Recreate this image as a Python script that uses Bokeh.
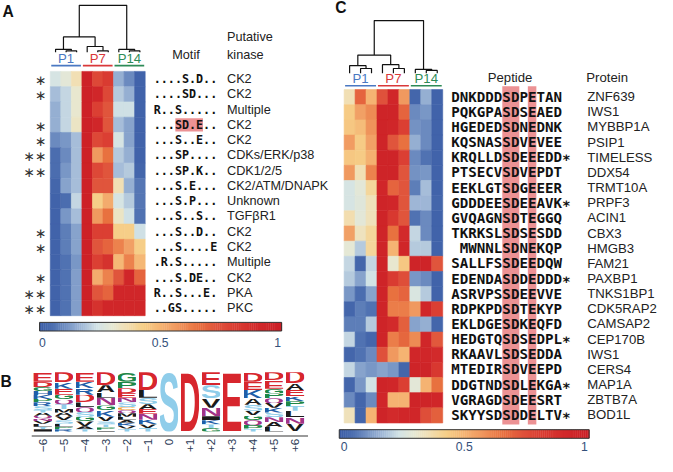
import base64
import math
import numpy as np
from bokeh.plotting import figure
from bokeh.models import Range1d, LinearColorMapper, ColumnDataSource
from bokeh.transform import transform
from bokeh.core.properties import value
from bokeh.embed import file_html
from bokeh.resources import INLINE

# ------------------------------------------------------------------ data
groups = ["P1", "P7", "P14"]
group_colors = ["#4a78c2", "#d9383a", "#2e8b57"]

motifs = ["....S.D..", "....SD...", "R..S.....", "...SD.E..", "...S..E..",
          "...SP....", "...SP.K..", "...S.E...", "...S.P...", "...S..S..",
          "...S..D..", "...S....E", ".R.S.....", "...S.DE..", "R..S...E.",
          "..GS....."]
kinases = ["CK2", "CK2", "Multiple", "CK2", "CK2", "CDKs/ERK/p38", "CDK1/2/5",
           "CK2/ATM/DNAPK", "Unknown", "TGF\u03b2R1", "CK2", "CK2", "Multiple",
           "CK2", "PKA", "PKC"]
motif_stars = ["\u2217", "\u2217", "", "\u2217", "\u2217", "\u2217\u2217", "\u2217\u2217", "", "", "",
               "\u2217", "\u2217", "", "\u2217", "\u2217\u2217", "\u2217\u2217"]
motif_values = [
    [0.25, 0.29, 0.36, 0.97, 0.77, 0.82, 0.16, 0.10, 0.02],
    [0.18, 0.22, 0.31, 0.97, 0.93, 0.77, 0.20, 0.16, 0.02],
    [0.16, 0.22, 0.31, 0.97, 0.80, 0.73, 0.235, 0.235, 0.02],
    [0.16, 0.22, 0.33, 0.97, 0.93, 0.73, 0.18, 0.14, 0.02],
    [0.10, 0.12, 0.18, 0.97, 0.77, 0.80, 0.25, 0.14, 0.02],
    [0.05, 0.10, 0.18, 0.97, 0.57, 0.66, 0.20, 0.16, 0.02],
    [0.05, 0.12, 0.18, 0.97, 0.77, 0.73, 0.18, 0.20, 0.03],
    [0.03, 0.14, 0.18, 0.97, 0.73, 0.73, 0.36, 0.16, 0.07],
    [0.02, 0.05, 0.22, 0.97, 0.43, 0.52, 0.25, 0.20, 0.07],
    [0.02, 0.12, 0.18, 0.97, 0.57, 0.66, 0.33, 0.235, 0.06],
    [0.02, 0.08, 0.14, 0.97, 0.80, 0.80, 0.43, 0.43, 0.235],
    [0.02, 0.08, 0.14, 0.97, 0.73, 0.69, 0.62, 0.55, 0.43],
    [0.02, 0.06, 0.12, 0.97, 0.80, 0.86, 0.49, 0.62, 0.49],
    [0.02, 0.06, 0.13, 0.97, 0.52, 0.62, 0.73, 0.93, 0.69],
    [0.02, 0.06, 0.13, 0.97, 0.73, 0.69, 0.93, 0.93, 0.93],
    [0.02, 0.06, 0.13, 0.97, 0.86, 0.93, 0.93, 0.93, 0.93],
]
highlight_pattern = "SD.E"

peptides = ["DNKDDDSDPETAN", "PQKGPASDSEAED", "HGEDEDSDNEDNK", "KQSNASSDVEVEE",
            "KRQLLDSDEEEDD", "PTSECVSDVEPDT", "EEKLGTSDGEEER", "GDDDEESDEEAVK",
            "GVQAGNSDTEGGQ", "TKRKSLSDSESDD", " MWNNLSDNEKQP", "SALLFSSDEEDQW",
            "EDENDASDDEDDD", "ASRVPSSDEEVVE", "RDPKPDSDTEKYP", "EKLDGESDKEQFD",
            "HEDGTQSDSEDPL", "RKAAVLSDSEDDA", "MTEDIRSDVEEPD", "DDGTNDSDLEKGA",
            "VGRAGDSDEESRT", "SKYYSDSDDELTV"]
peptide_stars = [False, False, False, False, True, False, False, True, False, False,
                 False, False, True, False, False, False, True, False, False, True,
                 False, True]
proteins = ["ZNF639", "IWS1", "MYBBP1A", "PSIP1", "TIMELESS", "DDX54", "TRMT10A",
            "PRPF3", "ACIN1", "CBX3", "HMGB3", "FAM21", "PAXBP1", "TNKS1BP1",
            "CDK5RAP2", "CAMSAP2", "CEP170B", "IWS1", "CERS4", "MAP1A", "ZBTB7A",
            "BOD1L"]
peptide_site_offset = 6  # position of the phospho-S within each peptide
peptide_values = [
    [0.36, 0.69, 0.50, 0.74, 0.93, 0.57, 0.03, 0.16, 0.02],
    [0.44, 0.55, 0.60, 0.95, 0.95, 0.69, 0.10, 0.12, 0.02],
    [0.45, 0.48, 0.58, 0.95, 0.93, 0.80, 0.11, 0.10, 0.02],
    [0.56, 0.44, 0.55, 0.95, 0.73, 0.66, 0.16, 0.10, 0.02],
    [0.45, 0.44, 0.51, 0.95, 0.95, 0.80, 0.10, 0.06, 0.02],
    [0.57, 0.36, 0.62, 0.95, 0.95, 0.73, 0.11, 0.12, 0.02],
    [0.25, 0.29, 0.40, 0.93, 0.69, 0.73, 0.08, 0.18, 0.02],
    [0.25, 0.28, 0.35, 0.95, 0.93, 0.73, 0.17, 0.17, 0.03],
    [0.37, 0.29, 0.35, 0.95, 0.83, 0.73, 0.06, 0.10, 0.02],
    [0.55, 0.34, 0.40, 0.95, 0.66, 0.90, 0.22, 0.10, 0.02],
    [0.30, 0.20, 0.40, 0.95, 0.50, 0.93, 0.20, 0.20, 0.02],
    [0.22, 0.03, 0.22, 0.95, 0.31, 0.45, 0.95, 0.95, 0.73],
    [0.20, 0.14, 0.24, 0.95, 0.82, 0.75, 0.12, 0.10, 0.02],
    [0.12, 0.05, 0.14, 0.95, 0.66, 0.69, 0.26, 0.20, 0.02],
    [0.03, 0.08, 0.06, 0.95, 0.63, 0.63, 0.57, 0.93, 0.80],
    [0.08, 0.08, 0.20, 0.95, 0.90, 0.70, 0.14, 0.16, 0.03],
    [0.22, 0.06, 0.03, 0.95, 0.63, 0.68, 0.60, 0.93, 0.72],
    [0.03, 0.06, 0.10, 0.74, 0.57, 0.50, 0.93, 0.93, 0.90],
    [0.22, 0.14, 0.12, 0.14, 0.12, 0.03, 0.95, 0.95, 0.83],
    [0.03, 0.12, 0.24, 0.95, 0.93, 0.80, 0.29, 0.50, 0.66],
    [0.10, 0.03, 0.10, 0.93, 0.50, 0.50, 0.95, 0.95, 0.93],
    [0.35, 0.03, 0.50, 0.95, 0.90, 0.93, 0.93, 0.75, 0.70],
]

# dendrogram merges (left node, right node, height); leaves 0..8
dendro_A = [(1, 2, 1.5), (0, 9, 3), (4, 5, 1.5), (3, 11, 6), (7, 8, 1.5), (6, 13, 3),
            (10, 12, 16), (15, 14, 49)]
dendro_C = [(1, 2, 5), (0, 9, 8), (4, 5, 5), (3, 11, 9), (7, 8, 3), (6, 13, 4),
            (10, 12, 19), (15, 14, 55)]

colorbar_ticks = [0, 0.5, 1]
colorbar_tick_labels = ["0", "0.5", "1"]

logo_positions = ["\u22126", "\u22125", "\u22124", "\u22123", "\u22122", "\u22121", "0",
                  "+1", "+2", "+3", "+4", "+5", "+6"]
logo_stacks = [  # top -> bottom, letter probability
    [("E", .16), ("D", .09), ("G", .065), ("H", .07), ("K", .065), ("P", .055), ("R", .07),
     ("S", .06), ("T", .045), ("A", .055), ("Q", .045), ("N", .04), ("V", .05), ("L", .05),
     ("Y", .04), ("I", .04)],
    [("D", .17), ("K", .11), ("E", .10), ("G", .08), ("Q", .08), ("T", .08), ("M", .06),
     ("A", .06), ("V", .07), ("S", .06), ("L", .05), ("P", .04), ("R", .04)],
    [("E", .16), ("K", .11), ("R", .11), ("D", .13), ("L", .08), ("Q", .08), ("S", .08),
     ("G", .08), ("V", .08), ("A", .05), ("T", .04)],
    [("D", .22), ("A", .12), ("L", .09), ("N", .13), ("G", .08), ("K", .11), ("V", .08),
     ("S", .05), ("T", .05), ("P", .04), ("I", .03)],
    [("G", .16), ("P", .11), ("D", .08), ("E", .08), ("N", .08), ("S", .08), ("C", .05),
     ("Q", .05), ("M", .06), ("L", .05), ("A", .05), ("K", .05), ("V", .05), ("T", .05)],
    [("D", .30), ("L", .13), ("S", .11), ("A", .08), ("E", .08), ("N", .10), ("K", .08),
     ("V", .06), ("T", .06)],
    [("S", 1.0)],
    [("D", 1.0)],
    [("E", .22), ("S", .22), ("V", .16), ("N", .14), ("I", .07), ("K", .07), ("T", .06),
     ("G", .06)],
    [("E", 1.0)],
    [("D", .16), ("E", .14), ("K", .14), ("A", .11), ("S", .10), ("V", .08), ("G", .08),
     ("Q", .08), ("P", .06), ("T", .05)],
    [("D", .14), ("E", .14), ("G", .08), ("P", .08), ("Q", .08), ("V", .08), ("K", .08),
     ("S", .08), ("N", .08), ("A", .08), ("L", .08)],
    [("D", .19), ("A", .11), ("E", .11), ("K", .08), ("P", .08), ("T", .08), ("L", .11),
     ("N", .11), ("V", .13)],
]

# ------------------------------------------------------------------ styling
RED, BLUE, LBLUE, GREEN, BLACK, PURPLE, ORANGE = (
    "#d7262d", "#1f5ea8", "#8fcdea", "#1e8747", "#1b1b1b", "#a23388", "#f0a030")
letter_color = {"D": RED, "E": RED, "K": BLUE, "R": BLUE, "H": BLUE, "S": LBLUE,
                "T": LBLUE, "Y": LBLUE, "G": GREEN, "P": GREEN, "N": PURPLE, "Q": PURPLE,
                "C": ORANGE}
# ink extents (per 1000 em) of bold sans letters
letter_ink = {"A": (0, 722), "C": (44, 688), "D": (73, 675), "E": (73, 620),
              "G": (44, 720), "H": (73, 650), "I": (64, 212), "K": (76, 724),
              "L": (73, 578), "M": (69, 763), "N": (74, 648), "P": (73, 620),
              "Q": (41, 745), "R": (74, 720), "S": (33, 622), "T": (22, 588),
              "V": (0, 665), "Y": (0, 667)}

stops = [(0.00, "#3a5ba6"), (0.06, "#5072b2"), (0.12, "#7b98c7"), (0.18, "#a6bdd9"),
         (0.24, "#d3e3e6"), (0.30, "#e6e8d4"), (0.36, "#f1dfb4"), (0.43, "#f6cf88"),
         (0.50, "#f5b473"), (0.57, "#f0985f"), (0.66, "#e8703f"), (0.73, "#e0553c"),
         (0.80, "#db3f33"), (0.90, "#d22a2b"), (1.00, "#cb1e26")]


def hex2rgb(h):
    return [int(h[i:i + 2], 16) for i in (1, 3, 5)]


sv = np.array([s[0] for s in stops])
sc = np.array([hex2rgb(s[1]) for s in stops])
t = np.linspace(0, 1, 256)
palette = ["#%02x%02x%02x" % tuple(int(round(np.interp(tt, sv, sc[:, k]))) for k in range(3))
           for tt in t]
mapper = LinearColorMapper(palette=palette, low=0, high=1)

REF_W, REF_H = 673, 476
W, H = 657, 456
FS = W / REF_W

p = figure(width=W, height=H, x_range=Range1d(0, REF_W), y_range=Range1d(REF_H, 0),
           output_backend="svg", toolbar_location=None, min_border=0,
           x_axis_location=None, y_axis_location=None)
p.grid.visible = False
p.outline_line_color = None


def txt(xs, ys, texts, size, font="Liberation Sans", color="#222222", align="left",
        baseline="middle", style="normal", angle=0.0):
    p.text(x=list(xs), y=list(ys), text=list(texts), text_font=value(font),
           text_font_size=value(f"{size * FS:.2f}px"), text_color=color,
           text_align=align, text_baseline=baseline, text_font_style=style, angle=angle)


def heat(vals, x0, y0, cw, rh):
    d = dict(left=[], right=[], top=[], bottom=[], v=[])
    for r, row in enumerate(vals):
        for c, v in enumerate(row):
            d["left"].append(x0 + c * cw)
            d["right"].append(x0 + (c + 1) * cw)
            d["top"].append(y0 + r * rh)
            d["bottom"].append(y0 + (r + 1) * rh)
            d["v"].append(v)
    p.quad(left="left", right="right", top="top", bottom="bottom",
           source=ColumnDataSource(d), fill_color=transform("v", mapper),
           line_color=transform("v", mapper), line_width=0.6)


def dendro(merges, leaf_x, base_y, unit):
    pos = {i: (x, 0.0) for i, x in enumerate(leaf_x)}
    n = len(leaf_x)
    xs, ys = [], []
    for k, (a, b, h) in enumerate(merges):
        xa, ha = pos[a]
        xb, hb = pos[b]
        yh = base_y - h * unit
        xs.append([xa, xa, xb, xb])
        ys.append([base_y - ha * unit, yh, yh, base_y - hb * unit])
        pos[n + k] = ((xa + xb) / 2, h)
    p.multi_line(xs, ys, line_color="#111111", line_width=1.2)


def group_header(x0, cw, label_y, line_y):
    for g, (name, col) in enumerate(zip(groups, group_colors)):
        gx0 = x0 + g * 3 * cw + 1
        gx1 = x0 + (g + 1) * 3 * cw - 1
        p.line([gx0, gx1], [line_y, line_y], line_color=col, line_width=1.6)
        txt([(gx0 + gx1) / 2], [label_y], [name], 13.5, color=col, align="center")


def colorbar(bx0, bx1, by0, by1, lab_x0, lab_x1, lab_y):
    n = 128
    edges = np.linspace(bx0, bx1, n + 1)
    d = dict(left=list(edges[:-1]), right=list(edges[1:] + 0.4), top=[by0] * n,
             bottom=[by1] * n, v=list((np.arange(n) + 0.5) / n))
    p.quad(left="left", right="right", top="top", bottom="bottom", source=ColumnDataSource(d),
           fill_color=transform("v", mapper), line_color=None)
    p.quad(left=[bx0], right=[bx1], top=[by0], bottom=[by1], fill_color=None,
           line_color="#333333", line_width=1)
    txt([lab_x0 + v * (lab_x1 - lab_x0) for v in colorbar_ticks], [lab_y] * 3,
        colorbar_tick_labels, 12.5, color="#34507a", align="center")


# ------------------------------------------------------------------ panel A
AX0, AY0, ACW = 51, 74, 10.8
ARH = 255 / len(motifs)
heat(motif_values, AX0, AY0, ACW, ARH)
dendro(dendro_A, [AX0 + (i + 0.5) * ACW for i in range(9)], 54, 1.0)
group_header(AX0, ACW, 61, 68)
rows_y_A = [AY0 + (r + 0.5) * ARH for r in range(len(motifs))]

MCH = 7.2
MX0 = 157
for r, m in enumerate(motifs):
    k = m.find(highlight_pattern)
    if k >= 0:
        p.quad(left=[MX0 + k * MCH + 0.5], right=[MX0 + (k + len(highlight_pattern)) * MCH],
               top=[AY0 + r * ARH + 1], bottom=[AY0 + (r + 1) * ARH - 1],
               fill_color="#ec9294", line_color=None)
txt([MX0] * len(motifs), rows_y_A, motifs, 12, font="DejaVu Sans Mono", color="#111111",
    style="bold")
txt([232] * len(kinases), rows_y_A, kinases, 13, color="#222222")
txt([47] * len(motifs), [y + 1 for y in rows_y_A], motif_stars, 14, font="DejaVu Sans",
    color="#333333", align="right")
txt([190], [57], ["Motif"], 13, align="center")
txt([232, 232], [38.5, 56.5], ["Putative", "kinase"], 13)
colorbar(40, 288, 336, 345, 43, 284, 357)
txt([2], [11], ["A"], 16, style="bold", color="#111111")

# ------------------------------------------------------------------ panel B
txt([0], [398], ["B"], 16, style="bold", color="#111111")
LX0, LDX, LW, LTOP, LBOT = 43.3, 21.53, 19.0, 388, 450


def letter_uri(ch):
    x0, x1 = letter_ink.get(ch, (40, 680))
    x0, x1 = x0 / 10, x1 / 10
    color = letter_color.get(ch, BLACK)
    svg = (f'<svg xmlns="http://www.w3.org/2000/svg" width="{x1 - x0:.1f}" height="71" '
           f'viewBox="{x0:.1f} -70 {x1 - x0:.1f} 71" preserveAspectRatio="none">'
           f'<text x="0" y="0" font-family="Liberation Sans, Arial, sans-serif" '
           f'font-weight="bold" font-size="100" fill="{color}">{ch}</text></svg>')
    return "data:image/svg+xml;base64," + base64.b64encode(svg.encode()).decode()


ld = dict(url=[], x=[], y=[], w=[], h=[])
for i, stack in enumerate(logo_stacks):
    cx = LX0 + i * LDX
    yb = LBOT
    for ch, frac in reversed(stack):
        hh = frac * (LBOT - LTOP)
        ld["url"].append(letter_uri(ch))
        ld["x"].append(cx - LW / 2)
        ld["y"].append(yb - hh)
        ld["w"].append(LW)
        ld["h"].append(hh)
        yb -= hh
p.image_url(url="url", x="x", y="y", w="w", h="h", anchor="top_left",
            source=ColumnDataSource(ld))
p.line([32, 315], [454.5, 454.5], line_color="#9a9a9a", line_width=2)
txt([LX0 + i * LDX for i in range(len(logo_positions))], [457.5] * len(logo_positions),
    logo_positions, 12, color="#2b3a55", align="right", angle=math.pi / 2)

# ------------------------------------------------------------------ panel C
CX0, CY0, CCW = 352, 93, 11.22
CRH = 348 / len(peptides)
heat(peptide_values, CX0, CY0, CCW, CRH)
dendro(dendro_C, [CX0 + (i + 0.5) * CCW for i in range(9)], 76, 1.0)
group_header(CX0, CCW, 81, 89)
rows_y_C = [CY0 + (r + 0.5) * CRH for r in range(len(peptides))]

PX0, PCH = 461.7, 8.72
# bands over the conserved S, D and E of the motif
runs, cur = [], None
for j, ch in enumerate(highlight_pattern):
    if ch != ".":
        if cur and cur[1] == j:
            cur[1] = j + 1
        else:
            cur = [j, j + 1]
            runs.append(cur)
for a, b in runs:
    p.quad(left=[PX0 + (peptide_site_offset + a) * PCH],
           right=[PX0 + (peptide_site_offset + b) * PCH],
           top=[CY0 - 3.5], bottom=[CY0 + len(peptides) * CRH + 1.5],
           fill_color="#ec9294", line_color=None)
pep_x, pep_t = [], []
for s, star in zip(peptides, peptide_stars):
    lead = len(s) - len(s.lstrip(" "))
    pep_x.append(PX0 + lead * PCH)
    pep_t.append(s.lstrip(" ") + ("\u2217" if star else ""))
txt(pep_x, [y - 0.5 for y in rows_y_C], pep_t, 14.5, font="DejaVu Sans Mono",
    color="#111111", style="bold")
txt([601] * len(proteins), [y - 0.5 for y in rows_y_C], proteins, 13.5, color="#222222")
txt([522], [80], ["Peptide"], 13.5, align="center")
txt([600], [80], ["Protein"], 13.5)
colorbar(347, 603, 448, 457, 352, 598, 466)
txt([343], [7], ["C"], 16, style="bold", color="#111111")

open("out.html", "w").write(file_html(p, INLINE))
